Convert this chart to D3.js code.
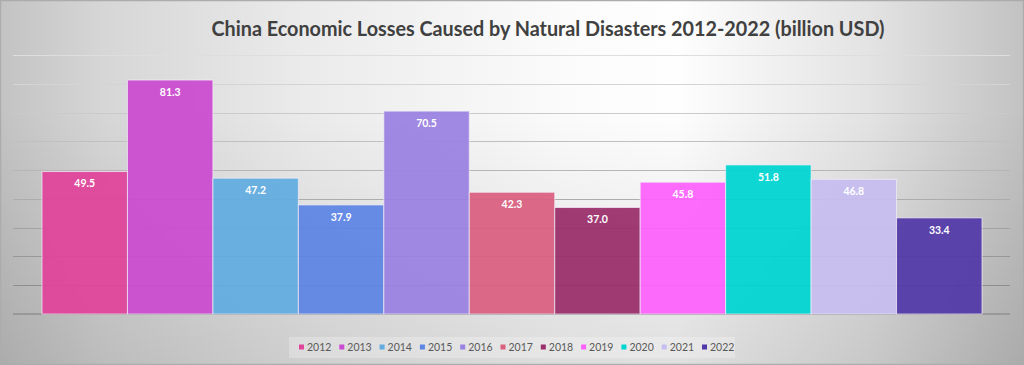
<!DOCTYPE html>
<html>
<head>
<meta charset="utf-8">
<script src="https://cdn.jsdelivr.net/npm/d3@7"></script>
<style>
  html, body { margin: 0; padding: 0; background: #fff; }
  svg { display: block; }
</style>
</head>
<body>
<div id="chart"></div>
<script>
// data
var years = ["2012", "2013", "2014", "2015", "2016", "2017", "2018", "2019", "2020", "2021", "2022"];
var losses = [49.5, 81.3, 47.2, 37.9, 70.5, 42.3, 37.0, 45.8, 51.8, 46.8, 33.4];
var bar_colours = ["#e0449a", "#cb4bd0", "#62acdf", "#5d85e4", "#9a82e0", "#d9607f", "#9b2f6b", "#fd62fd", "#00d5d0", "#c7bdf0", "#5239a8"];
var grid_ticks = [10, 20, 30, 40, 50, 60, 70, 80, 90];
var title = "China Economic Losses Caused by Natural Disasters 2012-2022 (billion USD)";

var width = 1024, height = 365;
var font = "Lato, 'Open Sans', sans-serif";

var svg = d3.select("#chart").append("svg")
    .attr("width", width)
    .attr("height", height);

var defs = svg.append("defs");

// background: light centre, grey edges
var hgrad = defs.append("linearGradient").attr("id", "bg_h")
    .attr("x1", 0).attr("x2", 1).attr("y1", 0).attr("y2", 0);
[[0, "#c3c3c3"], [0.1, "#d6d6d6"], [0.3, "#ebebeb"], [0.55, "#fbfbfb"], [0.66, "#fefefe"], [0.85, "#e3e3e3"], [1, "#c2c2c2"]]
  .forEach(function(s){ hgrad.append("stop").attr("offset", s[0]).attr("stop-color", s[1]); });

var vgrad = defs.append("linearGradient").attr("id", "bg_v")
    .attr("x1", 0).attr("x2", 0).attr("y1", 0).attr("y2", 1);
[[0, 0.0], [0.3, 0.0], [1, 0.12]]
  .forEach(function(s){ vgrad.append("stop").attr("offset", s[0]).attr("stop-color", "#000").attr("stop-opacity", s[1]); });

svg.append("rect").attr("width", width).attr("height", height).attr("fill", "url(#bg_h)");
svg.append("rect").attr("width", width).attr("height", height).attr("fill", "url(#bg_v)");
svg.append("rect").attr("x", 0.5).attr("y", 0.5).attr("width", width - 1).attr("height", height - 1)
    .attr("fill", "none").attr("stroke", "#acacac").attr("stroke-width", 1.5);

// scales
var x = d3.scaleBand().domain(years).range([42, 982]).padding(0);
var y = d3.scaleLinear().domain([0, 90]).range([314, 55]);
var grid_colour = d3.scaleLinear().domain([90, 10]).range(["#dedede", "#8e8e8e"]);

// gridlines
svg.append("g").selectAll("line")
    .data(grid_ticks)
    .enter().append("line")
    .attr("x1", 13).attr("x2", 1010)
    .attr("y1", function(d){ return Math.round(y(d)) + 0.5; })
    .attr("y2", function(d){ return Math.round(y(d)) + 0.5; })
    .attr("stroke", function(d){ return grid_colour(d); })
    .attr("stroke-width", 1);

// baseline
svg.append("line")
    .attr("x1", 13).attr("x2", 1010)
    .attr("y1", y(0)).attr("y2", y(0))
    .attr("stroke", "#999").attr("stroke-width", 2);

// bars
svg.append("g").selectAll("rect")
    .data(losses)
    .enter().append("rect")
    .attr("x", function(d, i){ return x(years[i]); })
    .attr("y", function(d){ return y(d); })
    .attr("width", x.bandwidth())
    .attr("height", function(d){ return y(0) - y(d); })
    .attr("fill", function(d, i){ return bar_colours[i]; })
    .attr("fill-opacity", 0.94)
    .attr("stroke", "#f4f0fa")
    .attr("stroke-opacity", 0.7)
    .attr("stroke-width", 1);

// value labels
svg.append("g").selectAll("text")
    .data(losses)
    .enter().append("text")
    .attr("x", function(d, i){ return x(years[i]) + x.bandwidth() / 2; })
    .attr("y", function(d){ return y(d) + 12; })
    .attr("dy", "0.35em")
    .attr("text-anchor", "middle")
    .style("font-family", font)
    .style("font-size", "10.5px")
    .style("font-weight", "bold")
    .style("fill", "#fff")
    .text(function(d){ return d.toFixed(1); });

// title
svg.append("text")
    .attr("x", 548)
    .attr("y", 36)
    .attr("text-anchor", "middle")
    .attr("textLength", 673)
    .attr("lengthAdjust", "spacingAndGlyphs")
    .style("font-family", font)
    .style("font-size", "20px")
    .style("font-weight", "bold")
    .style("fill", "#404040")
    .text(title);

// legend
svg.append("rect")
    .attr("x", 289).attr("y", 337).attr("width", 446).attr("height", 21)
    .attr("fill", "#fff").attr("fill-opacity", 0.25);

var lx = d3.scaleBand().domain(years).range([299, 299 + 11 * 40.3]);
var legend = svg.append("g").selectAll("g")
    .data(years)
    .enter().append("g")
    .attr("transform", function(d){ return "translate(" + lx(d) + ",347)"; });

legend.append("rect")
    .attr("x", 0).attr("y", -2.5)
    .attr("width", 5).attr("height", 5)
    .attr("fill", function(d, i){ return bar_colours[i]; });

legend.append("text")
    .attr("x", 8)
    .attr("dy", "0.35em")
    .style("font-family", font)
    .style("font-size", "10.5px")
    .style("fill", "#595959")
    .text(function(d){ return d; });
</script>
</body>
</html>
